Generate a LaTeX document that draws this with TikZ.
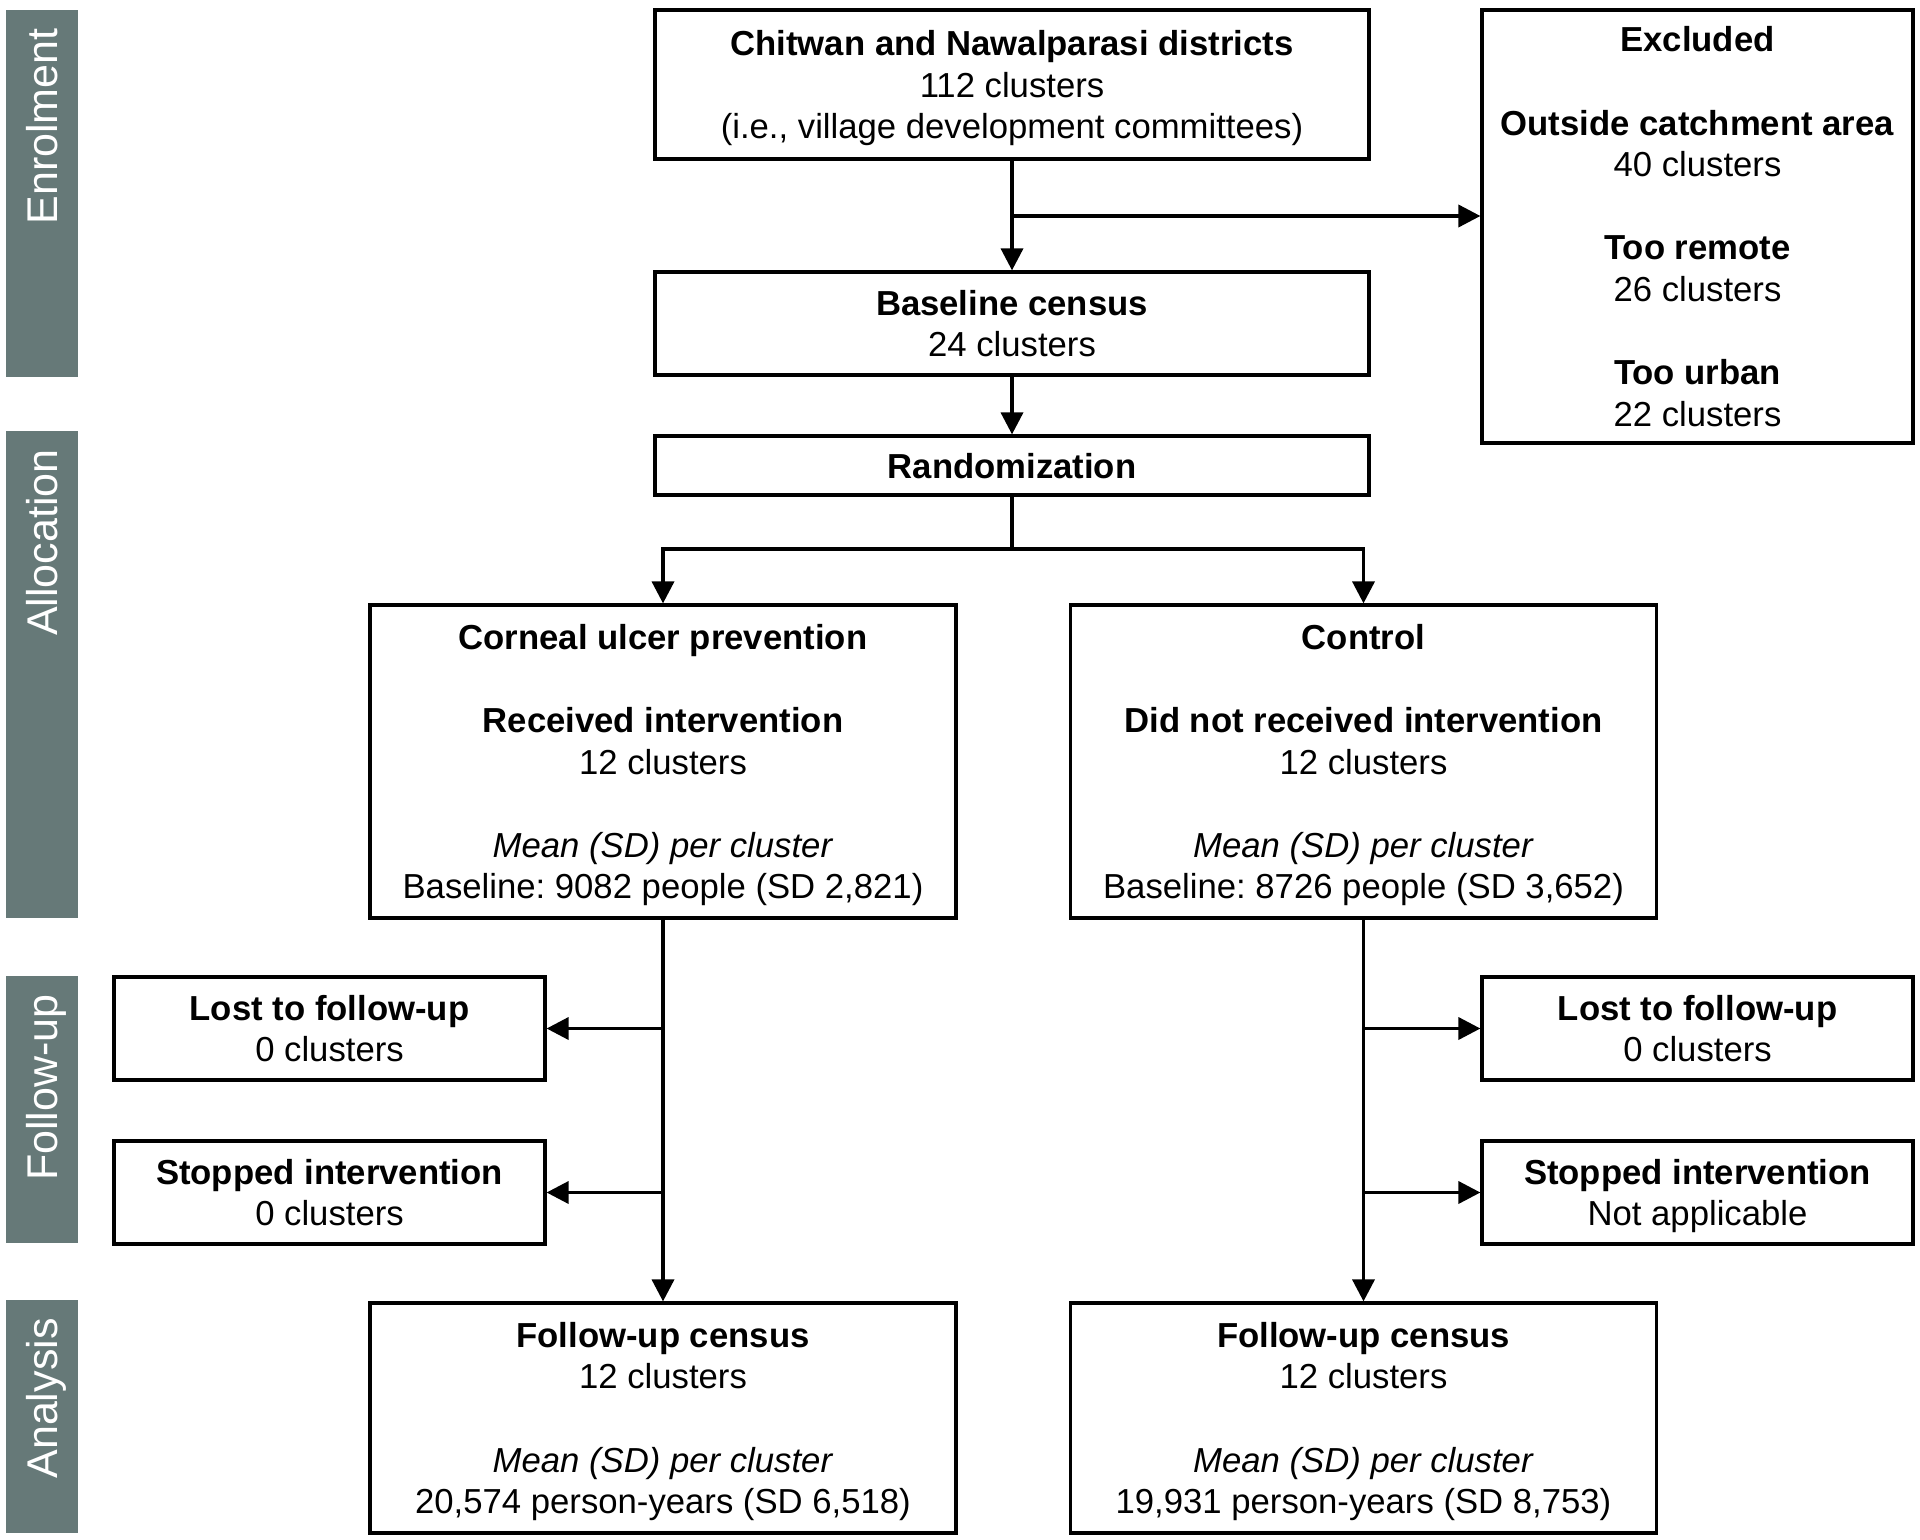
\documentclass[tikz,border=0pt]{standalone}
\usepackage{fontspec}
\setmainfont{Liberation Sans}
\usepackage{xcolor}
\usetikzlibrary{arrows.meta}
\definecolor{phasegray}{RGB}{102,121,120}
\frenchspacing

\begin{document}
\begin{tikzpicture}[x=0.5pt, y=-0.5pt,
  box/.style={draw, line width=1.6pt, align=center, inner sep=0pt, text depth=0pt,
    font=\fontsize{17.35}{20.8}\selectfont},
  phase/.style={rotate=90, anchor=east, text=white, inner sep=0pt,
    text height=15.4pt, text depth=0pt, font=\fontsize{21.5}{25}\selectfont},
  link/.style={line width=1.8pt},
  arr/.style={link, -{Triangle[length=11pt,width=11pt]}}]
  \useasboundingbox (0,0) rectangle (1920,1540);
  % phase bars on the left
  \foreach \ytop/\ybot/\lbl [count=\i] in {10/377/Enrolment, 431/918/Allocation,
      976/1243/Follow-up, 1300/1533/Analysis}{
    \fill[phasegray] (6,\ytop) rectangle (78,\ybot);
    \node[phase] (phase\i) at (42,\ytop+18) {\lbl};
  }
  % enrolment
  \node[box, minimum width=357pt, minimum height=74.5pt] (district) at (1012,84.5)
    {\textbf{Chitwan and Nawalparasi districts}\\112 clusters\\(i.e., village development committees)};
  \node[box, minimum width=357pt, minimum height=51.5pt] (base) at (1012,323.5)
    {\textbf{Baseline census}\\24 clusters};
  \node[box, minimum width=357pt, minimum height=29.5pt] (rand) at (1012,465.5)
    {\textbf{Randomization}};
  \node[box, minimum width=215.5pt, minimum height=216.5pt] (excl) at (1697.5,226.5)
    {\textbf{Excluded}\\[\baselineskip]\textbf{Outside catchment area}\\40 clusters\\[\baselineskip]
     \textbf{Too remote}\\26 clusters\\[\baselineskip]\textbf{Too urban}\\22 clusters};
  % allocation
  \node[box, minimum width=293pt, minimum height=156.5pt] (corn) at (663,761.5)
    {\textbf{Corneal ulcer prevention}\\[\baselineskip]\textbf{Received intervention}\\12 clusters\\[\baselineskip]
     \textit{Mean (SD) per cluster}\\Baseline: 9082 people (SD 2,821)};
  \node[box, minimum width=293pt, minimum height=156.5pt] (ctrl) at (1363.5,761.5)
    {\textbf{Control}\\[\baselineskip]\textbf{Did not received intervention}\\12 clusters\\[\baselineskip]
     \textit{Mean (SD) per cluster}\\Baseline: 8726 people (SD 3,652)};
  % follow-up
  \node[box, minimum width=215.5pt, minimum height=51.5pt] (lostL) at (329.5,1028.5)
    {\textbf{Lost to follow-up}\\0 clusters};
  \node[box, minimum width=215.5pt, minimum height=51.5pt] (stopL) at (329.5,1192.5)
    {\textbf{Stopped intervention}\\0 clusters};
  \node[box, minimum width=215.5pt, minimum height=51.5pt] (lostR) at (1697.5,1028.5)
    {\textbf{Lost to follow-up}\\0 clusters};
  \node[box, minimum width=215.5pt, minimum height=51.5pt] (stopR) at (1697.5,1192.5)
    {\textbf{Stopped intervention}\\Not applicable};
  % analysis
  \node[box, minimum width=293pt, minimum height=115pt] (fuL) at (663,1418)
    {\textbf{Follow-up census}\\12 clusters\\[\baselineskip]
     \textit{Mean (SD) per cluster}\\20,574 person-years (SD 6,518)};
  \node[box, minimum width=293pt, minimum height=115pt] (fuR) at (1363.5,1418)
    {\textbf{Follow-up census}\\12 clusters\\[\baselineskip]
     \textit{Mean (SD) per cluster}\\19,931 person-years (SD 8,753)};
  % connectors
  \coordinate (exclfork) at (1012,216);
  \coordinate (armfork) at (1012,549);
  \draw[arr] (district) -- (base);
  \draw[arr] (exclfork) -- (exclfork -| excl.west);
  \draw[arr] (base) -- (rand);
  \draw[link] (rand) -- (armfork);
  \draw[arr] (armfork) -| (corn);
  \draw[arr] (armfork) -| (ctrl);
  \draw[arr] (corn) -- (fuL);
  \draw[arr] (ctrl) -- (fuR);
  \foreach \src/\dst in {corn/lostL, corn/stopL, ctrl/lostR, ctrl/stopR}
    \draw[arr] (\src.south |- \dst) -- (\dst);
\end{tikzpicture}
\end{document}
